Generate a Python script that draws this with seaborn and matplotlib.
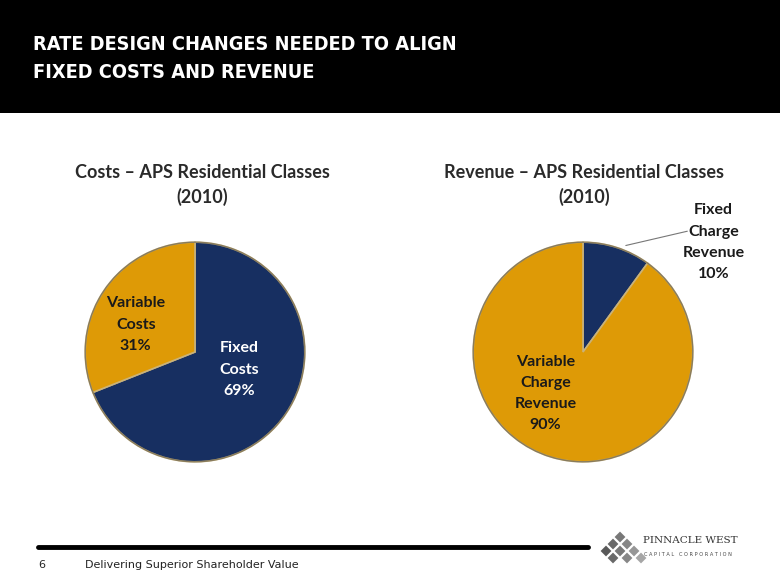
import matplotlib
matplotlib.use("Agg")
import matplotlib.pyplot as plt
import seaborn as sns
from matplotlib.patches import Rectangle, Polygon, Circle
from matplotlib.lines import Line2D

# data
cost_labels = ["Fixed\nCosts\n69%", "Variable\nCosts\n31%"]
cost_values = [69, 31]
revenue_labels = ["Fixed\nCharge\nRevenue\n10%", "Variable\nCharge\nRevenue\n90%"]
revenue_values = [10, 90]

title_lines = ["RATE DESIGN CHANGES NEEDED TO ALIGN", "FIXED COSTS AND REVENUE"]
cost_title = "Costs \u2013 APS Residential Classes\n(2010)"
revenue_title = "Revenue \u2013 APS Residential Classes\n(2010)"
footer_text = "Delivering Superior Shareholder Value"
page_no = "6"

NAVY = "#172F61"
GOLD = "#DE9A06"
W, H = 780, 585

sns.set_theme(style="white")
plt.rcParams["font.family"] = ["Lato", "DejaVu Sans"]


def px(x, y):
    return x / W, 1 - y / H


fig = plt.figure(figsize=(W / 100, H / 100), dpi=100)
fig.patch.set_facecolor("white")

# title bar
fig.patches.append(Rectangle((0, 1 - 113 / H), 1, 113 / H, transform=fig.transFigure,
                             facecolor="black", edgecolor="none", zorder=0))
for i, line in enumerate(title_lines):
    fig.text(*px(33, 45 + 28 * i), line, color="white", fontsize=14.3, fontweight="bold",
             family="DejaVu Sans", fontstretch="condensed", va="center", ha="left")


def draw_pie(cx, cy, r, values, colors):
    ax = fig.add_axes([(cx - r) / W, 1 - (cy + r) / H, 2 * r / W, 2 * r / H])
    wedges, _ = ax.pie(values, colors=colors, startangle=90, counterclock=False,
                       wedgeprops=dict(edgecolor="#C9B27A", linewidth=1.2))
    ax.add_patch(Circle((0, 0), 1.0, fill=False, edgecolor="#3a3a3a", linewidth=1.0, alpha=0.45))
    ax.set_xlim(-1.02, 1.02)
    ax.set_ylim(-1.02, 1.02)
    ax.set_aspect("equal")
    ax.axis("off")
    return ax


label_kw = dict(fontsize=11.5, fontweight="bold", ha="center", va="center", linespacing=1.65)

ax1 = draw_pie(195, 352, 112, cost_values, [NAVY, GOLD])
ax1.text(0.40, -0.16, cost_labels[0], color="white", **label_kw)
ax1.text(-0.54, 0.25, cost_labels[1], color="#1a1a1a", **label_kw)

ax2 = draw_pie(583, 352, 112, revenue_values, [NAVY, GOLD])
ax2.text(-0.34, -0.38, revenue_labels[1], color="#1a1a1a", **label_kw)
ax2.text(1.19, 1.00, revenue_labels[0], color="#1a1a1a", clip_on=False, **label_kw)
ax2.add_line(Line2D([0.39, 0.95], [0.97, 1.10], color="#777777", linewidth=0.8, clip_on=False))

fig.text(*px(202, 185), cost_title, color="#2a2a2a", fontsize=13, fontweight="bold",
         ha="center", va="center", linespacing=1.45)
fig.text(*px(584, 185), revenue_title, color="#2a2a2a", fontsize=13, fontweight="bold",
         ha="center", va="center", linespacing=1.45)

# footer
fig.lines.append(Line2D([38 / W, 588 / W], [1 - 547 / H] * 2, transform=fig.transFigure,
                        color="black", linewidth=3.5))
fig.text(*px(38, 565), page_no, fontsize=8, family="DejaVu Sans", va="center", ha="left")
fig.text(*px(85, 565), footer_text, fontsize=8, family="DejaVu Sans", va="center", ha="left",
         color="#222222")

# logo
rows = [[0], [-1, 1], [-2, 0, 2], [-1, 1, 3]]
for j, row in enumerate(rows):
    for k in row:
        x0, y0 = 620 + k * 7, 537 + j * 7
        shade = 0.35 + 0.12 * (k + 2) / 2
        fig.patches.append(Polygon([px(x0, y0 - 6), px(x0 + 6, y0), px(x0, y0 + 6), px(x0 - 6, y0)],
                                   closed=True, transform=fig.transFigure,
                                   facecolor=str(min(shade, 0.8)), edgecolor="white", linewidth=0.6))
fig.text(*px(643, 543), "PINNACLE WEST", fontsize=7.5, family="DejaVu Serif", color="#333333",
         va="baseline", ha="left")
fig.text(*px(644, 554), "C A P I T A L   C O R P O R A T I O N", fontsize=3.6,
         family="DejaVu Sans", color="#444444", va="center", ha="left")

fig.savefig("out.png", dpi=100)
